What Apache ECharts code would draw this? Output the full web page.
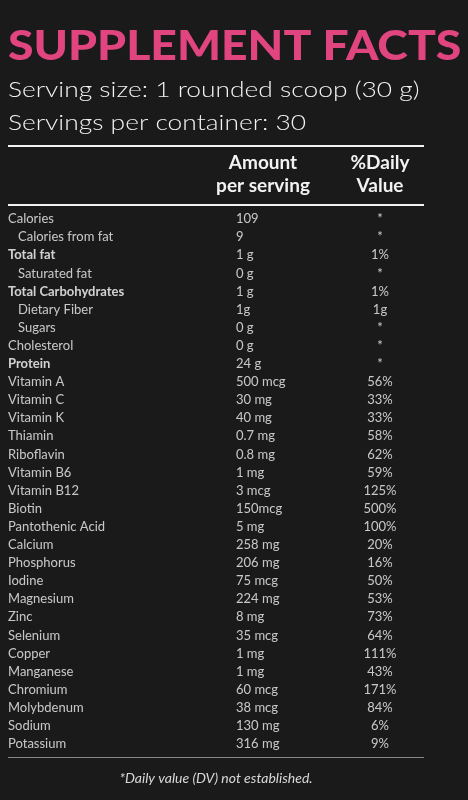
<!DOCTYPE html>
<html><head><meta charset="utf-8">
<script src="https://cdn.jsdelivr.net/npm/echarts@6/dist/echarts.min.js"></script>
<style>html,body{margin:0;padding:0;background:#1b1a1b}#c{width:468px;height:800px}</style>
</head><body><div id="c"></div>
<script>
const nutrients = ["Calories","Calories from fat","Total fat","Saturated fat","Total Carbohydrates","Dietary Fiber","Sugars","Cholesterol","Protein","Vitamin A","Vitamin C","Vitamin K","Thiamin","Riboflavin","Vitamin B6","Vitamin B12","Biotin","Pantothenic Acid","Calcium","Phosphorus","Iodine","Magnesium","Zinc","Selenium","Copper","Manganese","Chromium","Molybdenum","Sodium","Potassium"];
const amounts = ["109","9","1 g","0 g","1 g","1g","0 g","0 g","24 g","500 mcg","30 mg","40 mg","0.7 mg","0.8 mg","1 mg","3 mcg","150mcg","5 mg","258 mg","206 mg","75 mcg","224 mg","8 mg","35 mcg","1 mg","1 mg","60 mcg","38 mcg","130 mg","316 mg"];
const dailyValues = ["*","*","1%","*","1%","1g","*","*","*","56%","33%","33%","58%","62%","59%","125%","500%","100%","20%","16%","50%","53%","73%","64%","111%","43%","171%","84%","6%","9%"];
const indented = ["Calories from fat","Saturated fat","Dietary Fiber","Sugars"];
const boldRows = ["Total fat","Total Carbohydrates","Protein"];

const F = "Lato, 'Open Sans', sans-serif";
const chart = echarts.init(document.getElementById('c'));
const base = {fontFamily:F,fontSize:13,color:'#f2f2f2'};
chart.setOption({
  backgroundColor:'#1b1a1b',
  grid:{left:0,right:0,top:210,bottom:47},
  xAxis:{type:'value',min:0,max:468,show:false},
  yAxis:{type:'category',data:nutrients,inverse:true,show:false},
  graphic:[
    {type:'text',x:8,y:26,scaleX:1.13,style:{text:'SUPPLEMENT FACTS',font:'900 41px '+F,fill:'#e0457f'}},
    {type:'text',x:8,y:79,scaleX:1.2,style:{text:'Serving size: 1 rounded scoop (30 g)',font:'300 22px '+F,fill:'#f2f2f2'}},
    {type:'text',x:8,y:112,scaleX:1.2,style:{text:'Servings per container: 30',font:'300 22px '+F,fill:'#f2f2f2'}},
    {type:'rect',shape:{x:8,y:145,width:416,height:2},style:{fill:'#f2f2f2'}},
    {type:'text',x:263,y:151,style:{text:'Amount\nper serving',font:'bold 19px '+F,fill:'#f2f2f2',align:'center',lineHeight:23}},
    {type:'text',x:380,y:151,style:{text:'%Daily\nValue',font:'bold 19px '+F,fill:'#f2f2f2',align:'center',lineHeight:23}},
    {type:'rect',shape:{x:8,y:204,width:416,height:2},style:{fill:'#f2f2f2'}},
    {type:'rect',shape:{x:8,y:757,width:416,height:1},style:{fill:'#888'}},
    {type:'text',x:216,y:771,style:{text:'*Daily value (DV) not established.',font:'italic 14px '+F,fill:'#d8d8d8',align:'center'}}
  ],
  series:[
    {type:'scatter',symbolSize:0,silent:true,
     data:nutrients.map((n,i)=>({value:[indented.includes(n)?18:8,i],name:n})),
     label:{show:true,position:'right',distance:0,...base,
       formatter:p=>boldRows.includes(p.name)?'{b|'+p.name+'}':p.name,
       rich:{b:{fontFamily:F,fontSize:13,fontWeight:'bold',color:'#fff'}}}},
    {type:'scatter',symbolSize:0,silent:true,
     data:amounts.map((a,i)=>({value:[236,i],name:a})),
     label:{show:true,position:'right',distance:0,...base,formatter:p=>p.name}},
    {type:'scatter',symbolSize:0,silent:true,
     data:dailyValues.map((d,i)=>({value:[380,i],name:d})),
     label:{show:true,position:'inside',...base,formatter:p=>p.name}}
  ]
});
</script></body></html>
